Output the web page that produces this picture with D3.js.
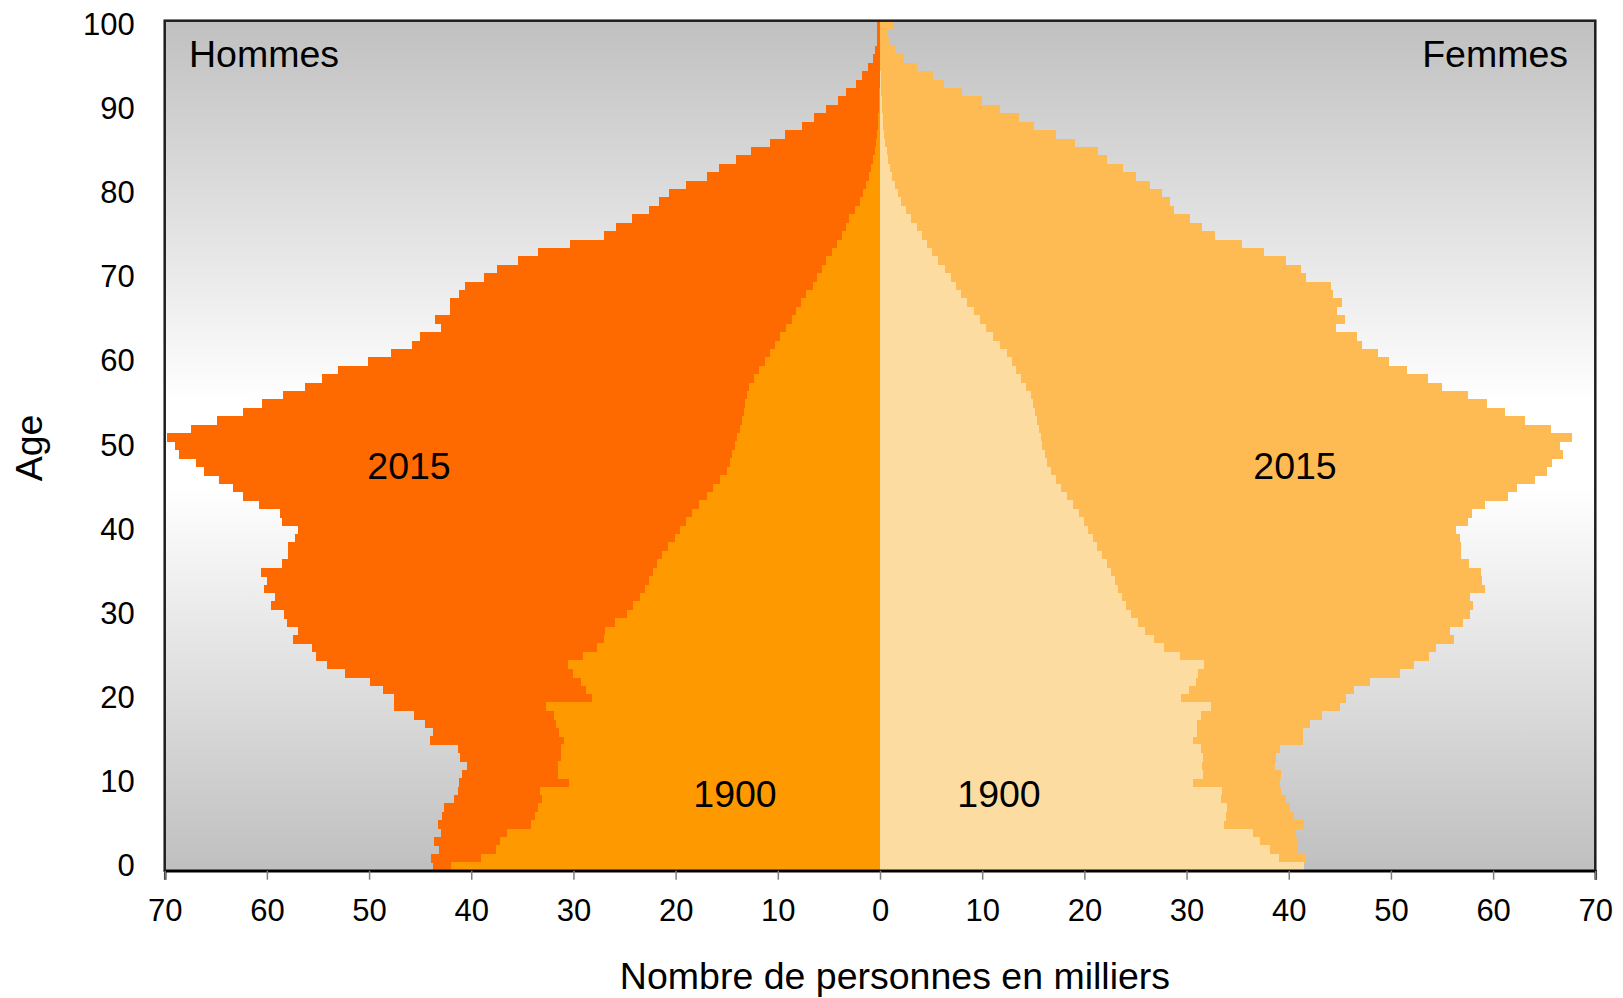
<!DOCTYPE html>
<html>
<head>
<meta charset="utf-8">
<script src="https://cdn.jsdelivr.net/npm/d3@7"></script>
<style>
    body { margin: 0; background: #ffffff; }
    text { font-family: "Liberation Sans", Arial, sans-serif; fill: #000000; }
</style>
</head>
<body>
<script>

// Ages 0 - 100 (one bar per age)
var ages = d3.range(0, 101);

// Population in thousands, age 0 first
var men2015 = [43.7, 43.9, 43.2, 43.6, 43.0, 43.3, 42.9, 42.7, 41.7, 41.3,
    41.2, 40.9, 40.4, 41.1, 41.3, 44.0, 43.7, 44.5, 45.6, 47.6,
    47.6, 48.6, 49.9, 52.4, 54.1, 55.2, 55.6, 57.4, 57.0, 58.0,
    58.3, 59.6, 59.2, 60.3, 60.0, 60.6, 58.5, 57.9, 57.9, 57.2,
    57.0, 58.5, 58.7, 60.8, 62.3, 63.3, 64.7, 66.2, 66.9, 68.6,
    69.0, 69.8, 67.4, 64.9, 62.3, 60.5, 58.4, 56.3, 54.6, 53.0,
    50.1, 47.9, 45.8, 45.0, 43.0, 43.5, 42.1, 42.1, 41.2, 40.6,
    38.8, 37.5, 35.4, 33.5, 30.3, 27.0, 25.8, 24.3, 22.6, 21.6,
    20.6, 19.0, 16.9, 15.8, 14.1, 12.6, 10.8, 9.3, 7.6, 6.5,
    5.3, 4.1, 3.3, 2.35, 1.8, 1.2, 0.7, 0.46, 0.3, 0.25,
    0.3];

var men1900 = [42.0, 39.0, 37.6, 37.2, 36.5, 34.2, 33.8, 33.5, 33.1, 33.3,
    30.4, 31.5, 31.5, 31.2, 31.2, 30.9, 31.4, 31.7, 31.9, 32.7,
    28.2, 28.8, 29.3, 30.0, 30.5, 29.1, 27.7, 27.0, 26.9, 25.9,
    24.8, 24.2, 23.5, 23.0, 22.6, 22.2, 21.8, 21.3, 20.7, 20.1,
    19.6, 19.0, 18.4, 17.7, 16.9, 16.3, 15.7, 15.0, 14.7, 14.5,
    14.2, 14.0, 13.7, 13.5, 13.3, 13.2, 13.0, 12.8, 12.3, 11.8,
    11.3, 10.8, 10.3, 9.8, 9.2, 8.6, 8.2, 7.7, 7.2, 6.6,
    6.2, 5.7, 5.3, 4.7, 4.2, 3.7, 3.3, 3.0, 2.4, 2.0,
    1.7, 1.4, 1.1, 0.85, 0.65, 0.5, 0.35, 0.27, 0.2, 0.15,
    0.1, 0.08, 0.06, 0.04, 0.03, 0.02, 0.01, 0.01, 0.01, 0.01,
    0.01];

var women2015 = [41.5, 41.7, 40.9, 40.9, 40.6, 41.5, 40.5, 40.1, 39.7, 39.2,
    39.1, 39.2, 38.7, 38.8, 39.1, 41.4, 41.4, 42.1, 43.3, 45.0,
    45.6, 46.4, 48.0, 50.9, 52.3, 53.7, 54.4, 56.2, 55.8, 57.1,
    57.7, 58.0, 57.7, 59.2, 58.9, 58.8, 57.6, 56.9, 56.9, 56.8,
    56.4, 57.5, 57.9, 59.2, 61.5, 62.3, 64.1, 65.3, 65.8, 66.8,
    66.5, 67.7, 65.7, 63.1, 61.2, 59.4, 57.5, 55.0, 53.6, 51.6,
    49.8, 48.7, 47.2, 46.7, 44.6, 45.5, 44.7, 45.2, 44.3, 44.1,
    41.7, 41.2, 39.7, 37.6, 35.4, 32.8, 31.5, 30.3, 28.8, 28.4,
    27.6, 26.4, 25.1, 23.8, 22.2, 21.3, 19.1, 17.2, 15.1, 13.6,
    11.7, 9.95, 8.05, 6.3, 5.2, 3.6, 2.3, 1.5, 1.0, 0.7,
    1.24];

var women1900 = [41.5, 39.0, 38.2, 37.2, 36.5, 33.7, 33.9, 34.0, 33.4, 33.5,
    30.6, 31.6, 31.5, 31.6, 31.4, 30.6, 31.0, 31.0, 31.4, 32.4,
    29.5, 30.2, 30.9, 31.1, 31.7, 29.4, 27.8, 26.8, 25.9, 25.2,
    24.6, 24.1, 23.7, 23.3, 23.0, 22.6, 22.2, 21.7, 21.2, 20.8,
    20.4, 20.0, 19.5, 18.9, 18.3, 17.7, 17.2, 16.7, 16.3, 16.1,
    15.9, 15.8, 15.6, 15.4, 15.2, 15.0, 14.8, 14.3, 13.8, 13.3,
    12.9, 12.4, 11.7, 11.1, 10.4, 9.8, 9.2, 8.5, 7.9, 7.4,
    6.9, 6.4, 5.7, 5.1, 4.6, 4.1, 3.6, 3.0, 2.5, 2.1,
    1.76, 1.47, 1.17, 0.95, 0.8, 0.65, 0.5, 0.4, 0.3, 0.25,
    0.2, 0.15, 0.1, 0.08, 0.05, 0.04, 0.03, 0.02, 0.01, 0.01,
    0.01];

// Axis ticks
var xTicks = d3.range(-70, 71, 10);
var yTicks = d3.range(0, 101, 10);

// Text labels
var xLabel = "Nombre de personnes en milliers";
var yLabel = "Age";


window.onload = function() {
    pyramid();
};


/*
 * Draws the population pyramid
 */

function pyramid() {

    // Dimensions of the figure
    var svgWidth = 1623;
    var svgHeight = 998;

    // Plot area
    var left = 164.7;
    var right = 1595.3;
    var top = 20.7;
    var bottom = 870.7;

    var labelSize = 37.5;
    var tickSize = 31;

    const svg = d3.select("body").append("svg")
        .attr("width", svgWidth)
        .attr("height", svgHeight);

    // Grey - white - grey background
    var grad = svg.append("defs").append("linearGradient")
        .attr("id", "bg")
        .attr("x1", 0).attr("y1", 0)
        .attr("x2", 0).attr("y2", 1);
    grad.append("stop").attr("offset", "0").attr("stop-color", "#c0c0c0");
    grad.append("stop").attr("offset", "0.45").attr("stop-color", "#ffffff");
    grad.append("stop").attr("offset", "0.55").attr("stop-color", "#ffffff");
    grad.append("stop").attr("offset", "1").attr("stop-color", "#bfbfbf");

    svg.append("rect")
        .attr("x", left)
        .attr("y", top)
        .attr("width", right - left)
        .attr("height", bottom - top)
        .attr("fill", "url(#bg)");

    // Scales
    const xScale = d3.scaleLinear()
        .domain([-70, 70])
        .range([left, right]);

    const yScale = d3.scaleBand()
        .domain(ages)
        .range([bottom, top])
        .padding(0);

    // Draw one series of bars, men to the left (negative side)
    var drawBars = function(values, side, colour) {
        svg.append("g")
            .attr("shape-rendering", "crispEdges")
            .selectAll("rect")
            .data(values)
            .enter()
            .append("rect")
            .attr("x", function(d) {
                return side < 0 ? xScale(-d) : xScale(0);
            })
            .attr("y", function(d, i) {
                return yScale(ages[i]);
            })
            .attr("width", function(d) {
                return Math.abs(xScale(d) - xScale(0));
            })
            .attr("height", yScale.bandwidth() + 0.5)
            .attr("fill", colour);
    };

    drawBars(men2015, -1, "#ff6a00");
    drawBars(women2015, 1, "#ffbb53");
    drawBars(men1900, -1, "#ff9900");
    drawBars(women1900, 1, "#fddca2");

    // Frame of the plot area
    svg.append("rect")
        .attr("x", left)
        .attr("y", top)
        .attr("width", right - left)
        .attr("height", bottom - top)
        .attr("fill", "none")
        .attr("stroke", "#1e1e1e")
        .attr("stroke-width", 2.5);

    // x-axis
    var xAxis = svg.append("g")
        .attr("transform", `translate(0, ${bottom})`)
        .call(d3.axisBottom(xScale)
            .tickValues(xTicks)
            .tickSize(9)
            .tickPadding(19)
            .tickFormat(function(d) { return Math.abs(d); }));
    xAxis.select(".domain")
        .attr("stroke", "#000000")
        .attr("stroke-width", 2.5);
    xAxis.selectAll(".tick line")
        .attr("stroke", "#808080")
        .attr("stroke-width", 1.5);
    xAxis.selectAll("text")
        .attr("font-size", tickSize)
        .attr("font-family", "'Liberation Sans', Arial, sans-serif")
        .attr("fill", "#000000");

    // y-axis
    var yAxis = svg.append("g")
        .attr("transform", `translate(${left}, 0)`)
        .call(d3.axisLeft(yScale)
            .tickValues(yTicks)
            .tickSize(0)
            .tickPadding(30));
    yAxis.select(".domain").remove();
    yAxis.selectAll("text")
        .attr("font-size", tickSize)
        .attr("font-family", "'Liberation Sans', Arial, sans-serif")
        .attr("fill", "#000000");

    // Axis labels
    svg.append("text")
        .attr("x", 895)
        .attr("y", 989)
        .attr("text-anchor", "middle")
        .attr("font-size", labelSize)
        .text(xLabel);

    svg.append("text")
        .attr("transform", "translate(42, 448) rotate(270)")
        .attr("text-anchor", "middle")
        .attr("font-size", labelSize)
        .text(yLabel);

    // Labels inside the plot
    svg.append("text")
        .attr("x", 189)
        .attr("y", 67)
        .attr("font-size", labelSize)
        .text("Hommes");

    svg.append("text")
        .attr("x", 1568)
        .attr("y", 67)
        .attr("text-anchor", "end")
        .attr("font-size", labelSize)
        .text("Femmes");

    var yearLabels = [
        ["2015", 409, 479],
        ["2015", 1295, 479],
        ["1900", 735, 807],
        ["1900", 999, 807]
    ];
    yearLabels.forEach(function(l) {
        svg.append("text")
            .attr("x", l[1])
            .attr("y", l[2])
            .attr("text-anchor", "middle")
            .attr("font-size", labelSize)
            .text(l[0]);
    });
};
</script>
</body>
</html>
